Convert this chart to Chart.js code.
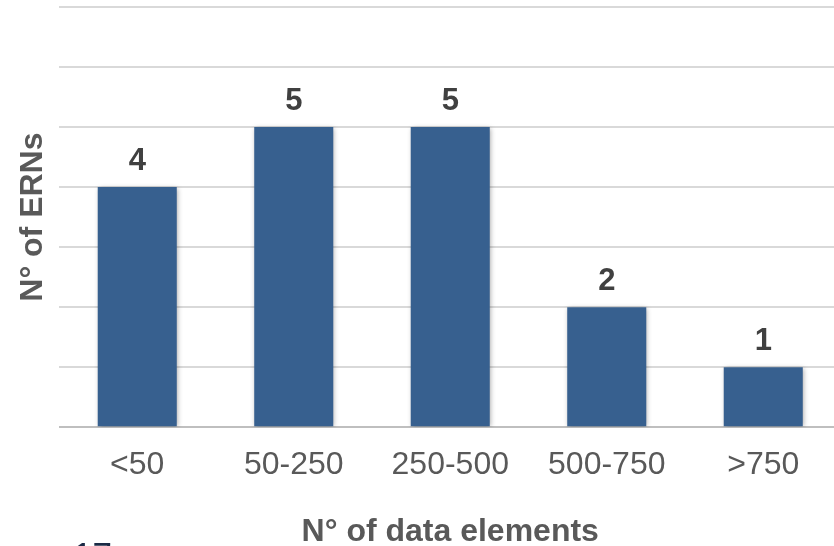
<!DOCTYPE html>
<html>
<head>
<meta charset="utf-8">
<script src="https://cdn.jsdelivr.net/npm/chart.js@4/dist/chart.umd.min.js"></script>
<style>
  html, body { margin: 0; padding: 0; background: #ffffff; overflow: hidden; width: 834px; height: 546px; }
  #wrap { position: absolute; left: 0; top: 0; width: 842px; height: 546px; }
  #pagenum { position: absolute; left: 73px; top: 537px; font: 35px "Liberation Sans", Arial, sans-serif; line-height: 35px; color: #1b2a45; white-space: nowrap; }
</style>
</head>
<body>
<div id="wrap"><canvas id="c" width="842" height="546"></canvas></div>
<div id="pagenum">17</div>
<script>
const categories = ["<50", "50-250", "250-500", "500-750", ">750"];
const ernCounts = [4, 5, 5, 2, 1];
const yTicks = [0, 1, 2, 3, 4, 5, 6, 7];
const xTitle = "N° of data elements";
const yTitle = "N° of ERNs";

const FONT = '"Liberation Sans", Arial, sans-serif';

const barShadow = {
  id: 'barShadow',
  beforeDatasetDraw(chart) {
    const ctx = chart.ctx;
    ctx.save();
    ctx.shadowColor = 'rgba(0,0,0,0.35)';
    ctx.shadowBlur = 5;
    ctx.shadowOffsetX = 1;
    ctx.shadowOffsetY = 1;
  },
  afterDatasetDraw(chart) {
    chart.ctx.restore();
  }
};

const valueLabels = {
  id: 'valueLabels',
  afterDatasetsDraw(chart) {
    const ctx = chart.ctx;
    const meta = chart.getDatasetMeta(0);
    ctx.save();
    ctx.font = 'bold 31px ' + FONT;
    ctx.fillStyle = '#404040';
    ctx.textAlign = 'center';
    ctx.textBaseline = 'alphabetic';
    meta.data.forEach((bar, i) => {
      ctx.fillText(String(chart.data.datasets[0].data[i]), bar.x, bar.y - 17);
    });
    ctx.restore();
  }
};

new Chart(document.getElementById('c'), {
  type: 'bar',
  data: {
    labels: categories,
    datasets: [{
      data: ernCounts,
      backgroundColor: '#37608f',
      borderWidth: 0,
      barPercentage: 0.505,
      categoryPercentage: 1.0
    }]
  },
  options: {
    responsive: false,
    animation: false,
    devicePixelRatio: 1,
    layout: { padding: { left: 0, right: 0.5, top: 7, bottom: -5 } },
    plugins: { legend: { display: false }, tooltip: { enabled: false } },
    scales: {
      y: {
        min: 0, max: 7,
        afterBuildTicks(scale) { scale.ticks = yTicks.map(v => ({ value: v })); },
        ticks: { display: false },
        grid: {
          drawTicks: false,
          lineWidth: 2,
          color: (c) => c.tick && c.tick.value === 0 ? '#bfbfbf' : '#d9d9d9'
        },
        border: { display: false },
        title: {
          display: true, text: yTitle, color: '#595959',
          font: { family: FONT, size: 32, weight: 'bold', lineHeight: 1.2 },
          padding: { top: 13.8, bottom: 6.8 }
        }
      },
      x: {
        grid: { display: false, drawTicks: false },
        border: { display: false },
        ticks: {
          color: '#595959', padding: 18.5,
          font: { family: FONT, size: 32, lineHeight: 1.2 }
        },
        title: {
          display: true, text: xTitle, color: '#595959',
          font: { family: FONT, size: 32, weight: 'bold', lineHeight: 1.2 },
          padding: { top: 10, bottom: 0 }
        }
      }
    }
  },
  plugins: [barShadow, valueLabels]
});
</script>
</body>
</html>
